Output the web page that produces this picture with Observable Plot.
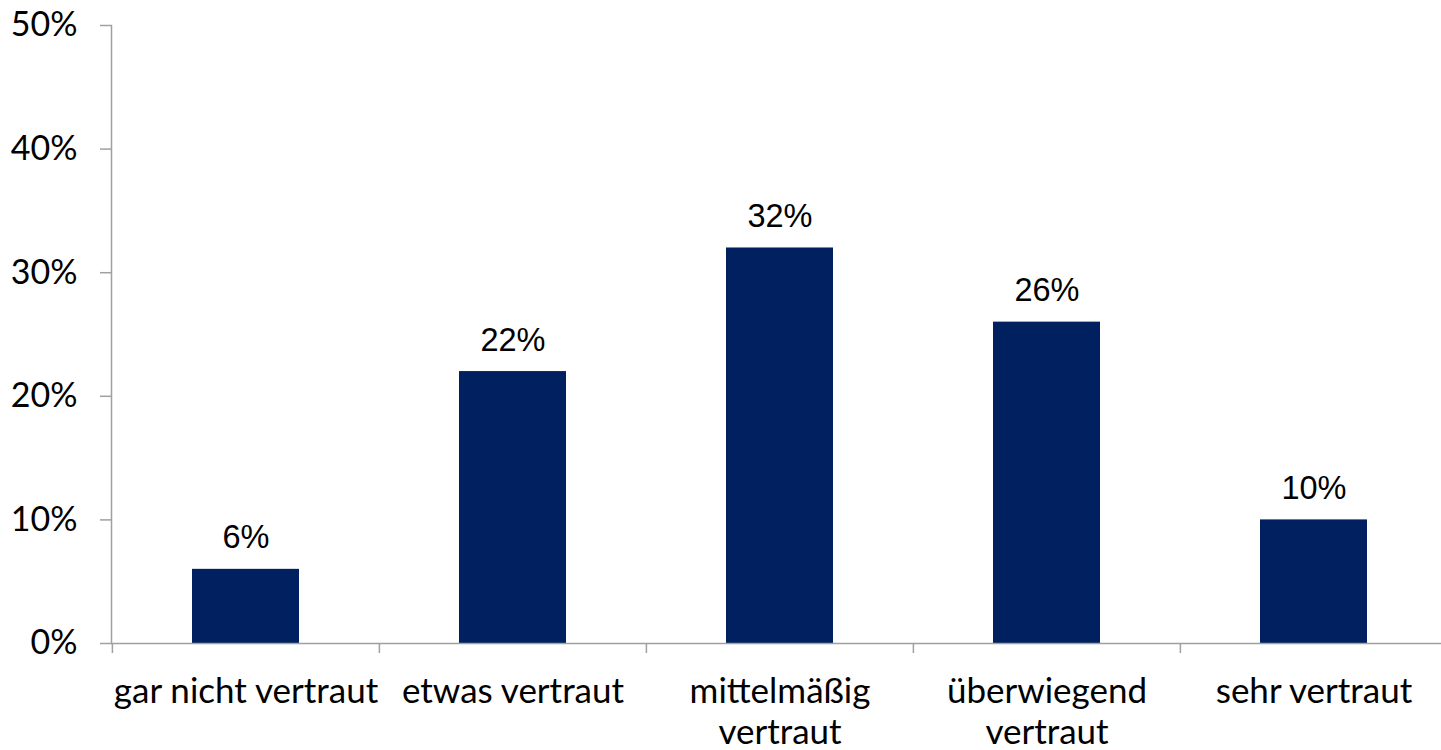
<!DOCTYPE html>
<html>
<head>
<meta charset="utf-8">
<script src="https://cdn.jsdelivr.net/npm/d3@7"></script>
<script src="https://cdn.jsdelivr.net/npm/@observablehq/plot@0.6"></script>
<style>
  html, body { margin: 0; padding: 0; background: #fff; }
</style>
</head>
<body>
<div id="chart"></div>
<script>
const categories = ["gar nicht vertraut", "etwas vertraut", "mittelmäßig\nvertraut", "überwiegend\nvertraut", "sehr vertraut"];
const values = [0.06, 0.22, 0.32, 0.26, 0.10];
const yTicks = [0, 0.1, 0.2, 0.3, 0.4, 0.5];

const data = categories.map((c, i) => ({category: c, value: values[i]}));
const axisGray = "#a0a0a0";
const pct = d3.format(".0%");
const step = (1447 - 111) / categories.length;

const chart = Plot.plot({
  width: 1441,
  height: 750,
  marginTop: 25,
  marginBottom: 107,
  marginLeft: 111,
  marginRight: 0,
  style: {background: "#fff", overflow: "visible"},
  x: {domain: categories, range: [111, 1447], padding: 0, axis: null},
  y: {domain: [0, 0.5], axis: null},
  marks: [
    Plot.barY(data, {x: "category", y: "value", fill: "#002060", insetLeft: 80, insetRight: 80}),
    Plot.frame({anchor: "left", stroke: axisGray, strokeWidth: 1.5}),
    Plot.ruleY([0], {stroke: axisGray, strokeWidth: 1.5}),
    Plot.axisY({ticks: yTicks, tickFormat: pct, tickSize: 11, tickPadding: 23, stroke: axisGray, label: null,
      fill: "#000", fontSize: 34, fontFamily: "Lato", strokeWidth: 1.5}),
    Plot.axisX({tickSize: 10, dx: -step / 2, tickFormat: () => "", label: null, stroke: axisGray, strokeWidth: 1.5}),
    Plot.axisX({tickSize: 0, tickPadding: 30, label: null, fill: "#000", fontSize: 35, fontFamily: "Lato", lineHeight: 1.17}),
    Plot.text(data, {x: "category", y: "value", text: d => pct(d.value), lineAnchor: "bottom", dy: -21,
      fontSize: 32.5, fontFamily: "Liberation Sans, Arial, sans-serif", fill: "#000"})
  ]
});
document.getElementById("chart").appendChild(chart);
</script>
</body>
</html>
